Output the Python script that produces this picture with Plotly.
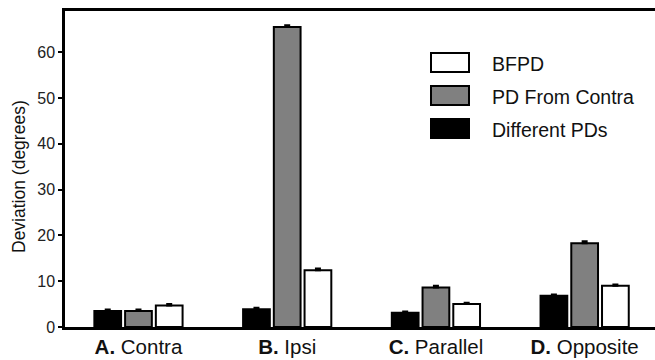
import plotly.graph_objects as go

categories = ["A", "B", "C", "D"]
category_letters = ["A.", "B.", "C.", "D."]
category_names = ["Contra", "Ipsi", "Parallel", "Opposite"]

series_names = ["Different PDs", "PD From Contra", "BFPD"]
different_pds = [3.5, 3.9, 3.1, 6.8]
pd_from_contra = [3.5, 65.5, 8.6, 18.3]
bfpd = [4.7, 12.4, 5.0, 9.0]
errors_black = [0.3, 0.3, 0.3, 0.3]
errors_gray = [0.3, 0.4, 0.4, 0.4]
errors_white = [0.3, 0.4, 0.3, 0.3]

y_ticks = [0, 10, 20, 30, 40, 50, 60]

fills = ["#000000", "#808080", "#ffffff"]
values = [different_pds, pd_from_contra, bfpd]
errs = [errors_black, errors_gray, errors_white]

FONT = "Liberation Sans, Arial, Helvetica, sans-serif"
fig = go.Figure()
x_idx = list(range(len(categories)))
for name, vals, col, er in zip(series_names, values, fills, errs):
    fig.add_trace(go.Bar(
        x=x_idx, y=vals, name=name,
        marker=dict(color=col, line=dict(color="#000000", width=2)),
        error_y=dict(type="data", array=er, arrayminus=[0]*len(er), symmetric=False,
                     color="#000000", thickness=2, width=3),
        showlegend=False,
    ))

ticktext = [f"<b>{l}</b> {n}" for l, n in zip(category_letters, category_names)]

W, H = 655.0, 360.0
ML, MR, MT, MB = 65, 0, 11, 33
pw, ph = W - ML - MR, H - MT - MB

fig.update_layout(
    width=655, height=360,
    margin=dict(l=ML, r=MR, t=MT, b=MB),
    paper_bgcolor="white", plot_bgcolor="white",
    barmode="group", bargap=0.38, bargroupgap=0.13,
    font=dict(family=FONT, color="#111111"),
    xaxis=dict(range=[-0.494, 3.473], tickmode="array", tickvals=x_idx, ticktext=ticktext,
               showline=True, linecolor="#000000", linewidth=2.5, mirror=True,
               ticks="", ticklen=0, showgrid=False, zeroline=False,
               tickfont=dict(size=20.5, family=FONT, color="#111111")),
    yaxis=dict(range=[0, 69], tickvals=y_ticks, showline=True, linecolor="#000000", linewidth=2.5,
               ticks="outside", ticklen=4, tickwidth=1.5, tickcolor="#000000",
               showgrid=False, zeroline=False,
               tickfont=dict(size=16, family=FONT, color="#222222")),
)

# Y-axis title placed as rotated text
fig.add_annotation(xref="paper", yref="paper", x=(19 - ML) / pw, y=(H - MB - 177) / ph,
                   text="Deviation (degrees)", textangle=-90, showarrow=False,
                   xanchor="center", yanchor="middle",
                   font=dict(size=17.5, family=FONT, color="#111111"))

# Manual legend (large swatches as in the original)
legend_items = [("BFPD", "#ffffff"), ("PD From Contra", "#808080"), ("Different PDs", "#000000")]
for i, (label, col) in enumerate(legend_items):
    ytop = 53 + i * 33
    x0 = (431 - ML) / pw
    x1 = (469 - ML) / pw
    y0 = (H - MB - ytop) / ph
    y1 = (H - MB - (ytop + 19)) / ph
    fig.add_shape(type="rect", xref="paper", yref="paper", x0=x0, x1=x1, y0=y1, y1=y0,
                  fillcolor=col, line=dict(color="#000000", width=2))
    fig.add_annotation(xref="paper", yref="paper", x=(490 - ML) / pw, y=(H - MB - (ytop + 11)) / ph,
                       text=label, showarrow=False, xanchor="left", yanchor="middle",
                       font=dict(size=19.5, family=FONT, color="#111111"))

fig.write_html("out.html")
